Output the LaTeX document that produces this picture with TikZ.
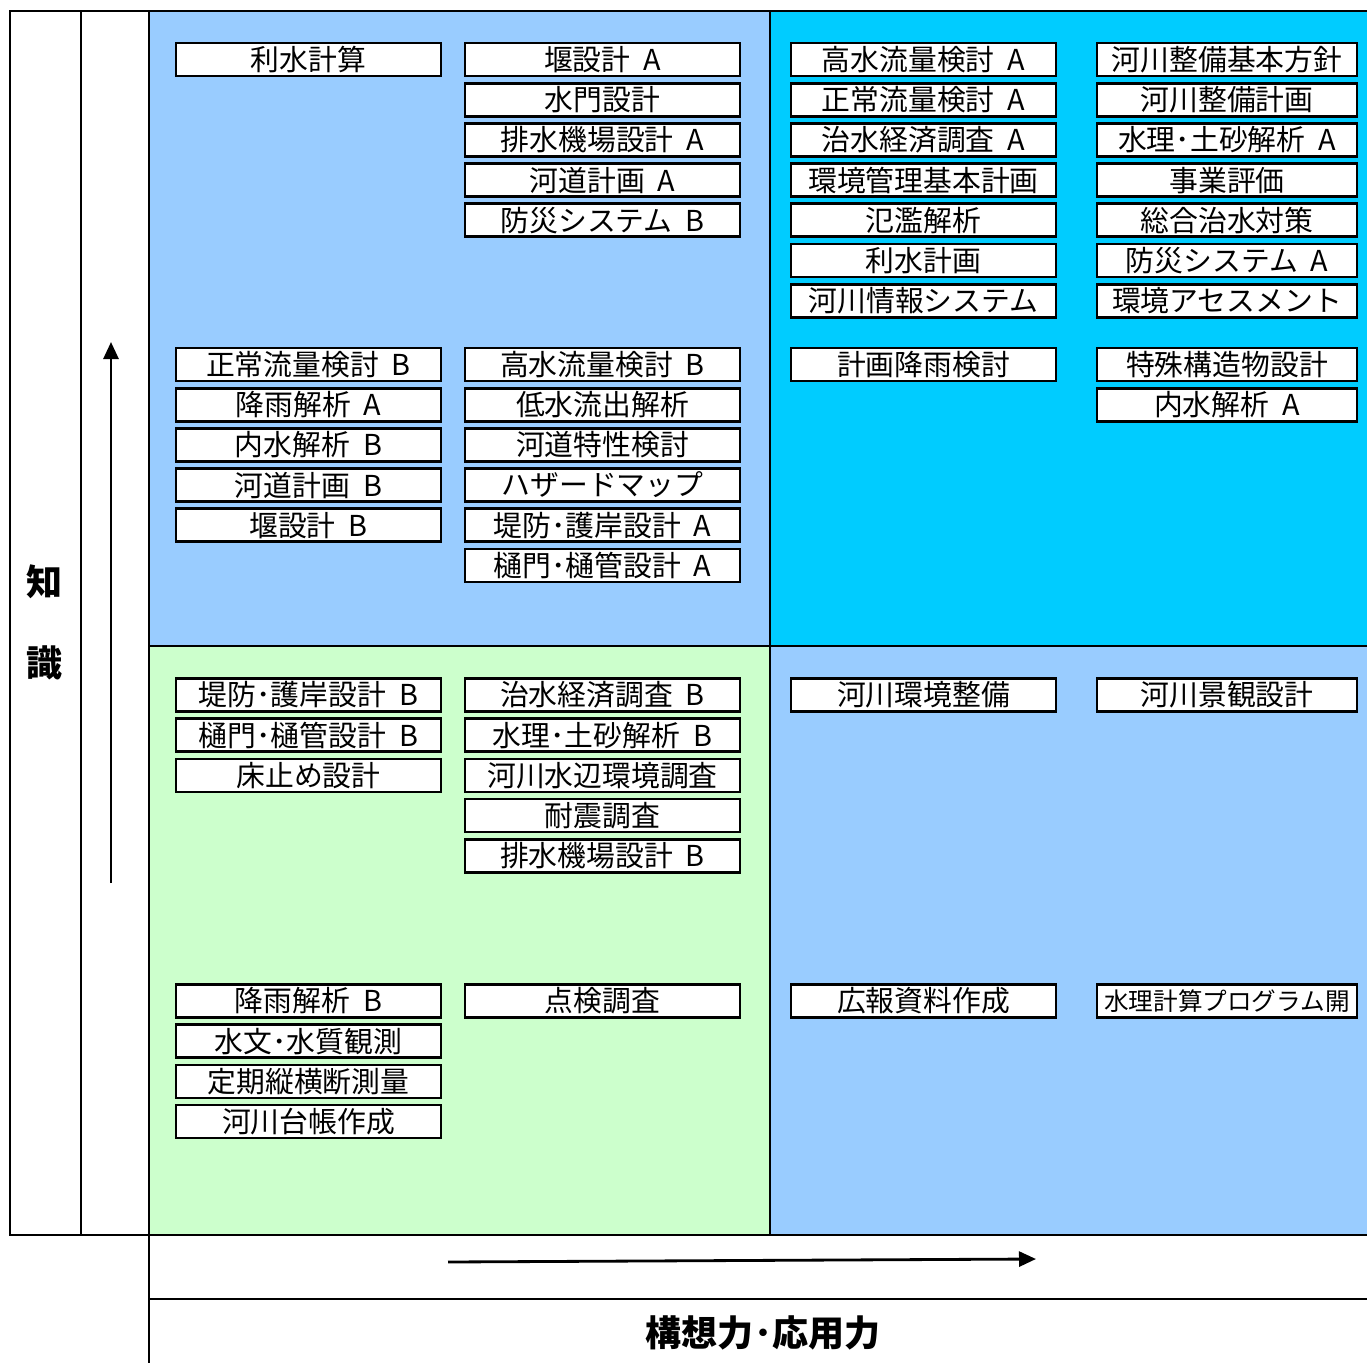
\documentclass[tikz,border=0pt]{standalone}
\usepackage{fontspec}
\setmainfont{Noto Sans CJK JP}[WordSpace=2]
\usepackage{xcolor}
\usetikzlibrary{arrows.meta,positioning}
\definecolor{paleblue}{HTML}{99CCFF}
\definecolor{skyblue}{HTML}{00CCFF}
\definecolor{palegreen}{HTML}{CCFFCC}

\begin{document}
\begin{tikzpicture}[
    x=0.2mm,
    y=-0.2mm,
    >={Triangle[length=3.4mm,width=3mm]},
    frame/.style={line width=1.6pt, black},
    thinframe/.style={line width=1.1pt, black},
    item/.style={draw=black, line width=1.5pt, fill=white, minimum height=6.6mm,
                 inner sep=0pt, font=\fontsize{16.4}{18}\selectfont},
    axislabel/.style={font=\bfseries\fontsize{20.5}{24}\selectfont},
    axisarrow/.style={->, line width=1.6pt, black},
]
\newcommand{\itemcol}[5]{%
  \foreach \t [count=\i] in {#5}{
    \node[item, minimum width=#4] (#1\i) at (#2,{#3+(\i-1)*40.2}) {\t};
  }
}
\useasboundingbox (0,0) rectangle (1367,1363);
% quadrants
\fill[paleblue] (149,11) rectangle (770,646);
\fill[skyblue] (770,11) rectangle (1367,646);
\fill[palegreen] (149,646) rectangle (770,1235);
\fill[paleblue] (770,646) rectangle (1367,1235);
% frame lines
\draw[frame] (1367,11) -- (10,11) -- (10,1235) -- (1367,1235);
\draw[frame] (81,11) -- (81,1235);
\draw[frame] (149,11) -- (149,1235);
\draw[thinframe] (149,1235) -- (149,1363);
\draw[frame] (770,11) -- (770,1235);
\draw[frame] (149,646) -- (1367,646);
\draw[frame] (149,1299) -- (1367,1299);
% axis labels and arrows
\node[axislabel] (chi) at (45,582) {知};
\node[axislabel] (shiki) at (45,663) {識};
\node[axislabel] (kousou) at (763,1333) {構想力･応用力};
\coordinate (upbot) at (111,883);
\coordinate (uptop) at (111,342);
\draw[axisarrow] (upbot) -- (uptop);
\coordinate (rtleft) at (448,1262);
\coordinate (rtright) at (1036,1259);
\draw[axisarrow] (rtleft) -- (rtright);
% upper left
\itemcol{tla}{308.5}{59.5}{53mm}{利水計算}
\itemcol{tlb}{602.5}{59.5}{55mm}{堰設計 A,水門設計,排水機場設計 A,河道計画 A,防災システム B}
\itemcol{tlc}{308.5}{364.5}{53mm}{正常流量検討 B,降雨解析 A,内水解析 B,河道計画 B,堰設計 B}
\itemcol{tld}{602.5}{364.5}{55mm}{高水流量検討 B,低水流出解析,河道特性検討,ハザードマップ,堤防･護岸設計 A,樋門･樋管設計 A}
% upper right
\itemcol{tra}{923.5}{59.5}{53mm}{高水流量検討 A,正常流量検討 A,治水経済調査 A,環境管理基本計画,氾濫解析,利水計画,河川情報システム}
\itemcol{trb}{1227}{59.5}{52mm}{河川整備基本方針,河川整備計画,水理･土砂解析 A,事業評価,総合治水対策,防災システム A,環境アセスメント}
\itemcol{trc}{923.5}{364.5}{53mm}{計画降雨検討}
\itemcol{trd}{1227}{364.5}{52mm}{特殊構造物設計,内水解析 A}
% lower left
\itemcol{bla}{308.5}{695}{53mm}{堤防･護岸設計 B,樋門･樋管設計 B,床止め設計}
\itemcol{blb}{602.5}{695}{55mm}{治水経済調査 B,水理･土砂解析 B,河川水辺環境調査,耐震調査,排水機場設計 B}
\itemcol{blc}{308.5}{1001}{53mm}{降雨解析 B,水文･水質観測,定期縦横断測量,河川台帳作成}
\itemcol{bld}{602.5}{1001}{55mm}{点検調査}
% lower right
\itemcol{bra}{923.5}{695}{53mm}{河川環境整備}
\itemcol{brb}{1227}{695}{52mm}{河川景観設計}
\itemcol{brc}{923.5}{1001}{53mm}{広報資料作成}
\node[item, minimum width=52mm, font=\fontsize{14}{16}\selectfont] (brd1) at (1227,1001) {水理計算プログラム開};
\end{tikzpicture}
\end{document}
